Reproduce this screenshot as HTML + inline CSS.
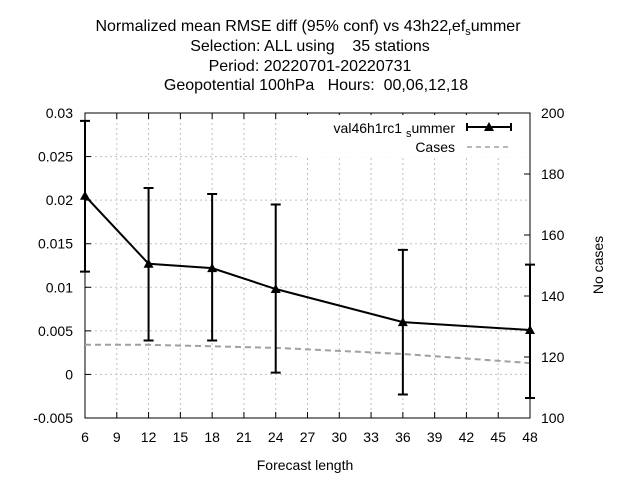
<!DOCTYPE html>
<html><head><meta charset="utf-8"><style>
body{margin:0;background:#fff;}
svg{font-family:"Liberation Sans",sans-serif;font-size:14px;}
text{white-space:pre;}
</style></head><body>
<svg id="c" width="640" height="480" xmlns="http://www.w3.org/2000/svg">
<g text-anchor="middle" fill="#000" font-size="16">
<text x="308" y="31">Normalized mean RMSE diff (95% conf) vs 43h22<tspan font-size="11" dy="4">r</tspan><tspan dy="-4">ef</tspan><tspan font-size="11" dy="4">s</tspan><tspan dy="-4">ummer</tspan></text>
<text x="310" y="51">Selection: ALL using    35 stations</text>
<text x="310" y="71">Period: 20220701-20220731</text>
<text x="316" y="90">Geopotential 100hPa   Hours:  00,06,12,18</text>
</g>
<g id="grid"></g>
<g id="axes"></g>
<g id="marks"></g>
<text x="305" y="470" text-anchor="middle">Forecast length</text>
<text transform="translate(603,265) rotate(-90)" text-anchor="middle">No cases</text>
</svg>
<script>
const xs=[6,12,18,24,36,48];
const vals=[0.0205,0.0127,0.0122,0.0098,0.0060,0.0051];
const hi=[0.0291,0.0214,0.0207,0.0195,0.0143,0.0126];
const lo=[0.0118,0.0039,0.0039,0.0002,-0.0023,-0.0027];
const caseX=[6,12,18,24,30,36,42,48];
const cases=[124,124,123.5,123,122,121,119.5,118];
const xTicks=[6,9,12,15,18,21,24,27,30,33,36,39,42,45,48];
const yTicks=[-0.005,0,0.005,0.01,0.015,0.02,0.025,0.03];
const yTickLabels=["-0.005","0","0.005","0.01","0.015","0.02","0.025","0.03"];
const y2Ticks=[100,120,140,160,180,200];
const L=85,R=530,T=113,B=418;
const X=v=>L+(v-6)/42*(R-L);
const Y=v=>B-(v+0.005)/0.035*(B-T);
const Y2=v=>B-(v-100)/100*(B-T);
const NS="http://www.w3.org/2000/svg";
function mk(p,t,a){const e=document.createElementNS(NS,t);for(const k in a)e.setAttribute(k,a[k]);p.appendChild(e);return e;}
const g=document.getElementById('grid'),ax=document.getElementById('axes'),m=document.getElementById('marks');
xTicks.forEach(v=>{
 const l=mk(g,'line',{x1:X(v),x2:X(v),y1:T,y2:B,stroke:'#c0c0c0','stroke-dasharray':'2,3','stroke-width':1});
 
 
 mk(ax,'line',{x1:X(v),x2:X(v),y1:B,y2:B-6,stroke:'#000'});
 mk(ax,'line',{x1:X(v),x2:X(v),y1:T,y2:T+6,stroke:'#000'});
 const t=mk(ax,'text',{x:X(v),y:B+24,'text-anchor':'middle'});t.textContent=v;
 
 
});
yTicks.forEach((v,i)=>{
 const l=mk(g,'line',{x1:L,x2:R,y1:Y(v),y2:Y(v),stroke:'#c0c0c0','stroke-dasharray':'2,3','stroke-width':1});
 
 
 mk(ax,'line',{x1:L,x2:L+6,y1:Y(v),y2:Y(v),stroke:'#000'});
 const t=mk(ax,'text',{x:L-12,y:Y(v)+5,'text-anchor':'end'});t.textContent=yTickLabels[i];
 
 
});
y2Ticks.forEach(v=>{
 mk(ax,'line',{x1:R,x2:R-6,y1:Y2(v),y2:Y2(v),stroke:'#000'});
 const t=mk(ax,'text',{x:R+11,y:Y2(v)+5,'text-anchor':'start'});t.textContent=v;
 
 
});
const lb=mk(ax,'rect',{x:300,y:115,width:228,height:42,fill:'#fff'});


const frame=mk(ax,'rect',{x:L,y:T,width:R-L,height:B-T,fill:'none',stroke:'#000'});


const cp=mk(m,'polyline',{points:caseX.map((v,i)=>X(v)+','+Y2(cases[i])).join(' '),fill:'none',stroke:'#a0a0a0','stroke-width':2,'stroke-dasharray':'6,4'});


const ml=mk(m,'polyline',{points:xs.map((v,i)=>X(v)+','+Y(vals[i])).join(' '),fill:'none',stroke:'#000','stroke-width':2});


xs.forEach((v,i)=>{
 const x=X(v);
 const e=mk(m,'path',{d:`M${x},${Y(hi[i])}V${Y(lo[i])}M${x-5},${Y(hi[i])}h10M${x-5},${Y(lo[i])}h10`,stroke:'#000','stroke-width':2,fill:'none'});
 
 
 const y=Y(vals[i]);
 const p=mk(m,'path',{d:`M${x},${y-5}L${x+5},${y+4}L${x-5},${y+4}Z`,fill:'#000'});
 
 
});
const svg=document.getElementById('c');
const t1=mk(svg,'text',{x:455,y:133,'text-anchor':'end'});
t1.innerHTML='val46h1rc1 <tspan font-size="11" dy="4">s</tspan><tspan dy="-4">ummer</tspan>';


mk(svg,'path',{d:'M467,127h44M467,123v8M511,123v8',stroke:'#000','stroke-width':2,fill:'none'});
mk(svg,'path',{d:'M489,122L494,131L484,131Z',fill:'#000'});
const t2=mk(svg,'text',{x:455,y:152,'text-anchor':'end'});t2.textContent='Cases';


mk(svg,'line',{x1:467,x2:511,y1:147,y2:147,stroke:'#a0a0a0','stroke-width':1.5,'stroke-dasharray':'5,4'});
</script>
</body></html>
